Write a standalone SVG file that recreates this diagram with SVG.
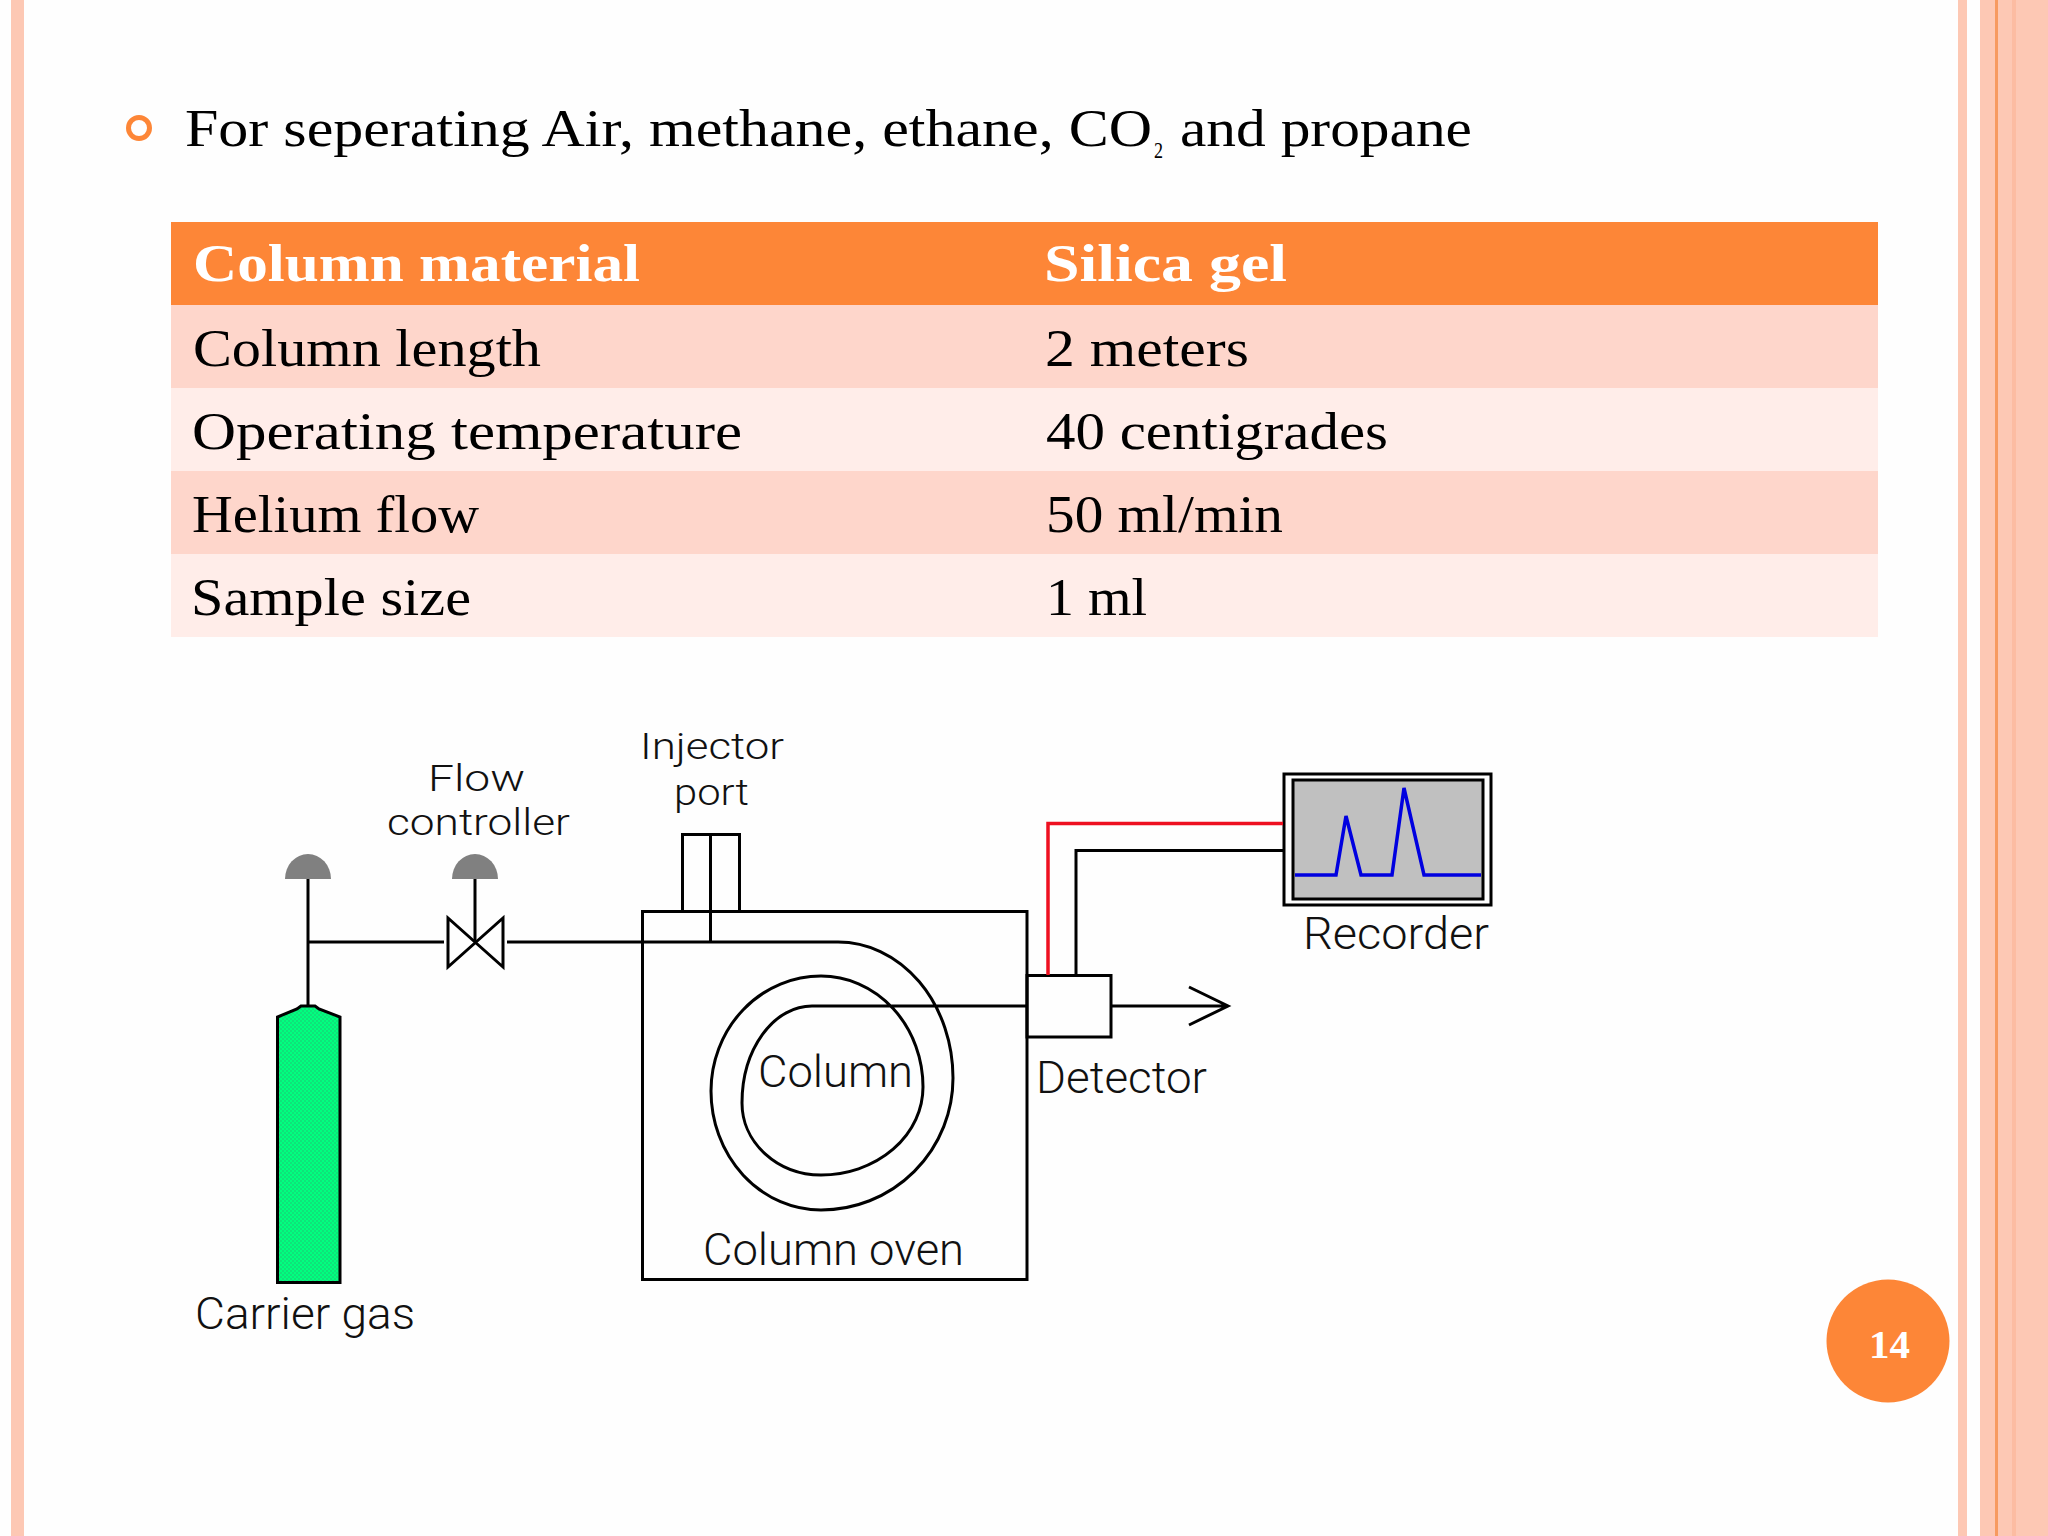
<svg xmlns="http://www.w3.org/2000/svg" width="2048" height="1536" viewBox="0 0 2048 1536">
<style>
.s{font-family:"Liberation Serif",serif;font-size:53px;fill:#000}
.sub{font-size:24px}
.h{font-family:"Liberation Serif",serif;font-size:53px;font-weight:bold;fill:#fff}
.l{font-family:"Roboto","Liberation Sans",sans-serif;font-weight:300;font-size:44px;fill:#111}
.t{font-size:37px}
.k{fill:none;stroke:#000;stroke-width:3}
.band{fill:#fdc8b4}
</style>
<defs><pattern id="d" width="4" height="4" patternUnits="userSpaceOnUse"><rect width="4" height="4" fill="#00ff7f"/><rect width="2" height="2" fill="#0fe37a"/><rect x="2" y="2" width="2" height="2" fill="#0fe37a"/></pattern></defs>
<rect width="2048" height="1536" fill="#fefefe"/>
<g id="frame">
<rect class="band" x="11" y="0" width="13" height="1536"/>
<rect class="band" x="1958" y="0" width="9" height="1536"/>
<rect class="band" x="1980" y="0" width="68" height="1536"/>
<rect x="1995" y="0" width="3" height="1536" fill="#f79a60"/>
<rect x="2012" y="0" width="4" height="1536" fill="#fcbca2"/>
</g>
<g id="title">
<circle cx="139" cy="128" r="10.500" fill="none" stroke="#fd8637" stroke-width="5"/>
<text class="s" x="185" y="146" textLength="967" lengthAdjust="spacingAndGlyphs">For seperating Air, methane, ethane, CO</text>
<text class="s sub" x="1154" y="158" textLength="9" lengthAdjust="spacingAndGlyphs">2</text>
<text class="s" x="1180" y="146" textLength="292" lengthAdjust="spacingAndGlyphs">and propane</text>
</g>
<g id="table">
<rect x="171" y="222" width="1707" height="83" fill="#fd8637"/>
<rect x="171" y="305" width="1707" height="83" fill="#fed6cb"/>
<rect x="171" y="388" width="1707" height="83" fill="#ffede9"/>
<rect x="171" y="471" width="1707" height="83" fill="#fed6cb"/>
<rect x="171" y="554" width="1707" height="83" fill="#ffede9"/>
<text class="h" x="193" y="281" textLength="447" lengthAdjust="spacingAndGlyphs">Column material</text>
<text class="h" x="1044" y="281" textLength="243" lengthAdjust="spacingAndGlyphs">Silica gel</text>
<text class="s" x="193" y="366" textLength="348" lengthAdjust="spacingAndGlyphs">Column length</text>
<text class="s" x="1045" y="366" textLength="204" lengthAdjust="spacingAndGlyphs">2 meters</text>
<text class="s" x="192" y="449" textLength="550" lengthAdjust="spacingAndGlyphs">Operating temperature</text>
<text class="s" x="1046" y="449" textLength="342" lengthAdjust="spacingAndGlyphs">40 centigrades</text>
<text class="s" x="192" y="532" textLength="287" lengthAdjust="spacingAndGlyphs">Helium flow</text>
<text class="s" x="1046" y="532" textLength="237" lengthAdjust="spacingAndGlyphs">50 ml/min</text>
<text class="s" x="191" y="615" textLength="280" lengthAdjust="spacingAndGlyphs">Sample size</text>
<text class="s" x="1046" y="615" textLength="101" lengthAdjust="spacingAndGlyphs">1 ml</text>
</g>
<g id="carrier-gas">
<path d="M285 879a23 25 0 0 1 46 0z" fill="#808080"/>
<path d="M277.500 1282.500V1017L297 1009l4-3h14l4 3 21 8V1282.500z" fill="url(#d)" stroke="#000" stroke-width="3"/>
<text class="l" x="195" y="1329" textLength="220" lengthAdjust="spacingAndGlyphs">Carrier gas</text>
</g>
<g id="flow-controller">
<path d="M452 879a23 25 0 0 1 46 0z" fill="#808080"/>
<path class="k" d="M448 918V967L503 918V967z"/>
<text class="l t" x="428" y="791" textLength="97" lengthAdjust="spacingAndGlyphs">Flow</text>
<text class="l t" x="387" y="835" textLength="183" lengthAdjust="spacingAndGlyphs">controller</text>
</g>
<g id="injector-port">
<rect class="k" x="682.500" y="834.500" width="57" height="77"/>
<text class="l t" x="640" y="759" textLength="144" lengthAdjust="spacingAndGlyphs">Injector</text>
<text class="l t" x="674" y="805" textLength="75" lengthAdjust="spacingAndGlyphs">port</text>
</g>
<g id="column-oven">
<rect class="k" x="642.500" y="911.500" width="384.500" height="368"/>
<text class="l" x="703" y="1265" textLength="261" lengthAdjust="spacingAndGlyphs">Column oven</text>
<text class="l" x="758" y="1087" textLength="155" lengthAdjust="spacingAndGlyphs">Column</text>
</g>
<g id="detector">
<rect class="k" x="1027" y="975.500" width="84" height="61.500"/>
<text class="l" x="1036" y="1093" textLength="171" lengthAdjust="spacingAndGlyphs">Detector</text>
</g>
<g id="recorder">
<rect class="k" x="1284" y="774" width="207" height="131"/>
<rect x="1293" y="780" width="190" height="119" fill="#c0c0c0" stroke="#000" stroke-width="3"/>
<path d="M1295 875H1336L1346 816 1361 875H1392L1404 788 1424 875H1481" fill="none" stroke="#0000e0" stroke-width="3.500"/>
<text class="l" x="1303" y="949" textLength="186" lengthAdjust="spacingAndGlyphs">Recorder</text>
</g>
<g id="connectors">
<path class="k" d="M308 879V1005"/>
<path class="k" d="M475 879V942"/>
<path class="k" d="M308 942H444"/>
<path class="k" d="M507 942H838"/>
<path class="k" d="M710.500 834V942"/>
<path class="k" d="M838 942A115 136 0 0 1 953 1078A132 132 0 0 1 821 1210A110 119 0 0 1 711 1091A110 115 0 0 1 821 976A102 111 0 0 1 923 1087A102 88 0 0 1 821 1175A79 72 0 0 1 742 1103A70 97 0 0 1 812 1006H1027"/>
<path class="k" d="M1111 1006H1228M1189 987L1228 1006 1189 1025"/>
<path d="M1048 975V823.500H1283" fill="none" stroke="#ee1020" stroke-width="3.500"/>
<path class="k" d="M1076 975V850.500H1283"/>
</g>
<g id="page-number">
<circle cx="1888" cy="1341" r="61.500" fill="#fd8637"/>
<text x="1869" y="1358" font-family="'Liberation Serif',serif" font-weight="bold" font-size="40" fill="#fff" textLength="41" lengthAdjust="spacingAndGlyphs">14</text>
</g>
</svg>
